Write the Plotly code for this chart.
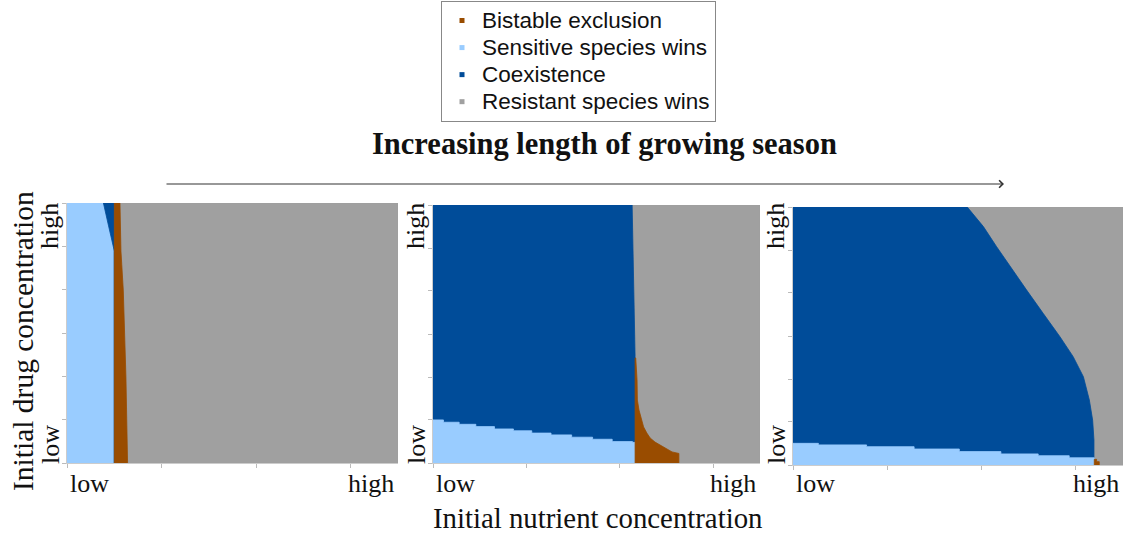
import plotly.graph_objects as go

W, H = 1129, 541

# ---------------- data (fractions of each axis range) ----------------
CATEGORIES = ["Bistable exclusion", "Sensitive species wins", "Coexistence", "Resistant species wins"]
CAT_COLORS = ["#994C00", "#99CCFF", "#004C99", "#A0A0A0"]

NUTRIENT_TICKS = [0.0, 0.2857, 0.5714, 0.8571]
DRUG_TICKS = [0.0, 0.1667, 0.3333, 0.5, 0.6667, 0.8333, 1.0]
TICK_TEXT = ["low", "high"]

# Panel 1 (short season)
P1_DRUG = [0.0, 0.333, 0.665, 0.815, 0.915, 1.0]
P1_SENS_EDGE = [0.143, 0.143, 0.143, 0.143, 0.125, 0.110]
P1_BIST_LEFT = [0.143, 0.143, 0.143, 0.143, 0.143, 0.143]
P1_BIST_RIGHT = [0.183, 0.178, 0.170, 0.163, 0.161, 0.160]

# Panel 2 (medium season)
P2_COEX_DRUG = [1.0, 0.671, 0.412, 0.0]
P2_COEX_EDGE = [0.609, 0.613, 0.618, 0.618]
P2_SENS_STEP_X = [0.0, 0.032, 0.080, 0.131, 0.188, 0.246, 0.302, 0.361, 0.424, 0.488, 0.548, 0.610, 0.618]
P2_SENS_STEP_Y = [0.167, 0.158, 0.150, 0.141, 0.132, 0.125, 0.116, 0.109, 0.100, 0.092, 0.083, 0.080]
P2_BIST_LEFT = [0.618, 0.618]
P2_BIST_LEFT_DRUG = [0.0, 0.407]
P2_BIST_DRUG = [0.407, 0.322, 0.244, 0.205, 0.167, 0.140, 0.116, 0.097, 0.081, 0.070, 0.058, 0.043, 0.037, 0.0]
P2_BIST_RIGHT = [0.620, 0.624, 0.625, 0.630, 0.639, 0.644, 0.654, 0.664, 0.679, 0.694, 0.709, 0.731, 0.752, 0.752]

# Panel 3 (long season)
P3_COEX_DRUG = [1.0, 0.924, 0.846, 0.769, 0.678, 0.588, 0.497, 0.420, 0.342, 0.252, 0.174, 0.097, 0.0]
P3_COEX_EDGE = [0.528, 0.577, 0.617, 0.658, 0.708, 0.758, 0.809, 0.849, 0.880, 0.898, 0.908, 0.912, 0.912]
P3_SENS_STEP_X = [0.0, 0.077, 0.223, 0.367, 0.504, 0.630, 0.743, 0.837, 0.913]
P3_SENS_STEP_Y = [0.084, 0.078, 0.071, 0.062, 0.052, 0.043, 0.036, 0.028]
P3_BIST_STEP_X = [0.913, 0.920, 0.928]
P3_BIST_STEP_Y = [0.022, 0.013]

AX_MIN, AX_MAX = 0.0, 1.0

# ---------------- layout geometry (pixels) ----------------
PANELS = [(67, 398, 203, 463), (433, 760, 205, 463), (793, 1123, 207, 465)]

def px(x):
    return x / W

def py(y):
    return 1 - y / H

col = dict(zip(CATEGORIES, CAT_COLORS))
fig = go.Figure()

def region(xs, ys, cat, i):
    fig.add_trace(go.Scatter(
        x=xs, y=ys, mode="lines", fill="toself", fillcolor=col[cat],
        line=dict(color=col[cat], width=0.8), hoverinfo="name", name=cat,
        showlegend=False, xaxis=f"x{i}" if i > 1 else "x", yaxis=f"y{i}" if i > 1 else "y"))

def background(i):
    region([AX_MIN, AX_MAX, AX_MAX, AX_MIN], [AX_MIN, AX_MIN, AX_MAX, AX_MAX], "Resistant species wins", i)

def step_polygon(xe, ys):
    xs, yv = [xe[0]], [AX_MIN]
    for k, yk in enumerate(ys):
        xs += [xe[k], xe[k + 1]]
        yv += [yk, yk]
    xs.append(xe[-1]); yv.append(AX_MIN)
    return xs, yv

# Panel 1
background(1)
region([AX_MIN, AX_MIN] + P1_SENS_EDGE[::-1], [AX_MIN, AX_MAX] + P1_DRUG[::-1], "Sensitive species wins", 1)
region(P1_SENS_EDGE + P1_BIST_LEFT[::-1], P1_DRUG + P1_DRUG[::-1], "Coexistence", 1)
region(P1_BIST_LEFT + P1_BIST_RIGHT[::-1], P1_DRUG + P1_DRUG[::-1], "Bistable exclusion", 1)

# Panel 2
background(2)
region([AX_MIN, AX_MIN] + P2_COEX_EDGE, [AX_MIN, AX_MAX] + P2_COEX_DRUG, "Coexistence", 2)
sx, sy = step_polygon(P2_SENS_STEP_X, P2_SENS_STEP_Y)
region(sx, sy, "Sensitive species wins", 2)
region(P2_BIST_LEFT + P2_BIST_RIGHT, P2_BIST_LEFT_DRUG + P2_BIST_DRUG, "Bistable exclusion", 2)

# Panel 3
background(3)
region([AX_MIN, AX_MIN] + P3_COEX_EDGE, [AX_MIN, AX_MAX] + P3_COEX_DRUG, "Coexistence", 3)
sx, sy = step_polygon(P3_SENS_STEP_X, P3_SENS_STEP_Y)
region(sx, sy, "Sensitive species wins", 3)
bx, by = step_polygon(P3_BIST_STEP_X, P3_BIST_STEP_Y)
region(bx, by, "Bistable exclusion", 3)

# Legend entries
for cat in CATEGORIES:
    fig.add_trace(go.Scatter(x=[None], y=[None], mode="markers",
                             name=f"<span style='font-size:22.5px'>{cat}</span>",
                             marker=dict(symbol="square", size=5, color=col[cat])))

axis_common = dict(range=[AX_MIN, AX_MAX], showgrid=False, zeroline=False, showticklabels=False,
                   ticks="outside", ticklen=4, tickcolor="#BBBBBB", tickwidth=1,
                   showline=True, linecolor="#CCCCCC", linewidth=1, fixedrange=True)

layout = dict(width=W, height=H, margin=dict(l=0, r=0, t=0, b=0),
              paper_bgcolor="white", plot_bgcolor="white", showlegend=True,
              legend=dict(x=px(441), y=py(1), xanchor="left", yanchor="top",
                          bordercolor="#888888", borderwidth=1, bgcolor="white",
                          font=dict(family="Liberation Sans, Arial, sans-serif", size=18.5, color="#111111")))

annotations = []
serif = "Liberation Serif, Times New Roman, serif"
for i, (l, r, t, b) in enumerate(PANELS, start=1):
    xk = "xaxis" if i == 1 else f"xaxis{i}"
    yk = "yaxis" if i == 1 else f"yaxis{i}"
    layout[xk] = dict(axis_common, domain=[px(l), px(r)], tickvals=NUTRIENT_TICKS,
                      anchor="y" if i == 1 else f"y{i}")
    layout[yk] = dict(axis_common, domain=[py(b), py(t)], tickvals=DRUG_TICKS,
                      anchor="x" if i == 1 else f"x{i}")
    # x tick labels
    annotations.append(dict(text=TICK_TEXT[0], x=px(l + 1), y=py(483), xref="paper", yref="paper",
                            xanchor="left", yanchor="middle", showarrow=False,
                            font=dict(family=serif, size=26, color="#111111")))
    annotations.append(dict(text=TICK_TEXT[1], x=px(r - 2), y=py(483), xref="paper", yref="paper",
                            xanchor="right", yanchor="middle", showarrow=False,
                            font=dict(family=serif, size=26, color="#111111")))
    # y tick labels (rotated)
    annotations.append(dict(text=TICK_TEXT[0], x=px(l - 17), y=py(445), xref="paper", yref="paper",
                            xanchor="center", yanchor="middle", textangle=-90, showarrow=False,
                            font=dict(family=serif, size=26, color="#111111")))
    annotations.append(dict(text=TICK_TEXT[1], x=px(l - 17), y=py(226), xref="paper", yref="paper",
                            xanchor="center", yanchor="middle", textangle=-90, showarrow=False,
                            font=dict(family=serif, size=26, color="#111111")))

annotations += [
    dict(text="<b>Increasing length of growing season</b>", x=px(604), y=py(144), xref="paper", yref="paper",
         xanchor="center", yanchor="middle", showarrow=False,
         font=dict(family=serif, size=30.5, color="#111111")),
    dict(text="", x=px(1004), y=py(184), xref="paper", yref="paper", ax=-839, ay=0,
         axref="pixel", ayref="pixel", showarrow=True, arrowhead=4, arrowsize=1.2,
         arrowwidth=1.2, arrowcolor="#333333"),
    dict(text="Initial nutrient concentration", x=px(597), y=py(518), xref="paper", yref="paper",
         xanchor="center", yanchor="middle", showarrow=False,
         font=dict(family=serif, size=28.8, color="#111111")),
    dict(text="Initial drug concentration", x=px(23), y=py(341), xref="paper", yref="paper",
         xanchor="center", yanchor="middle", textangle=-90, showarrow=False,
         font=dict(family=serif, size=29.5, color="#111111")),
]
layout["annotations"] = annotations
fig.update_layout(**layout)

fig.write_html("out.html")
